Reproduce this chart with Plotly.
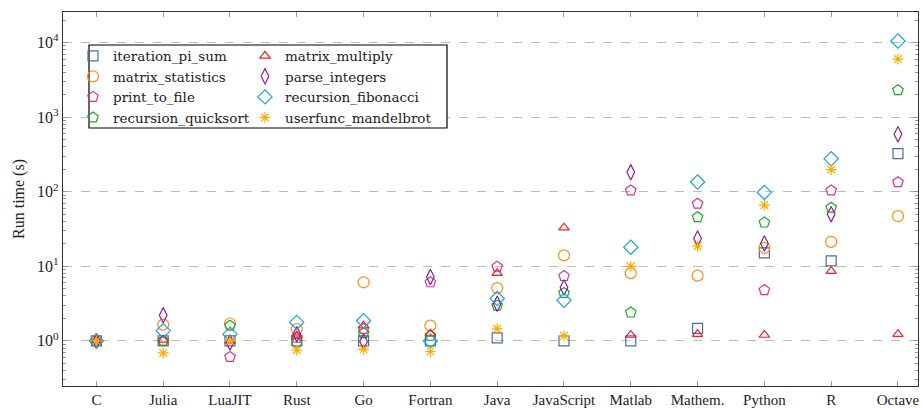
import plotly.graph_objects as go

categories = ["C", "Julia", "LuaJIT", "Rust", "Go", "Fortran", "Java", "JavaScript",
              "Matlab", "Mathem.", "Python", "R", "Octave"]

iteration_pi_sum = [1, 1.0, 1.0, 1.0, 1.0, 1.0, 1.1, 1.0, 1.0, 1.47, 15.1, 11.8, 325]
matrix_multiply = [1, 1.03, 1.0, 1.17, 1.6, 1.25, 8.1, 33, 1.2, 1.23, 1.2, 8.6, 1.23]
matrix_statistics = [1, 1.65, 1.71, 1.44, 6.1, 1.6, 5.1, 14, 8.1, 7.5, 17.7, 21.3, 47]
parse_integers = [1, 2.2, 0.95, 1.23, 0.98, 7.2, 3.15, 5.2, 182, 23.6, 20.2, 50, 590]
print_to_file = [1, 1.0, 0.61, 1.1, 1.45, 6.1, 9.9, 7.4, 104, 69, 4.8, 104, 134]
recursion_fibonacci = [1, 1.37, 1.23, 1.77, 1.86, 1.0, 3.7, 3.5, 18, 135, 98, 276, 10500]
recursion_quicksort = [1, 1.0, 1.6, 0.95, 1.27, 1.17, 2.97, 4.4, 2.4, 45.6, 38.6, 61, 2300]
userfunc_mandelbrot = [1, 0.69, 1.0, 0.75, 0.77, 0.72, 1.45, 1.17, 10, 18.6, 66, 198, 6000]

y_tickvals = [1, 10, 100, 1000, 10000]
y_ticktext = ["10<sup>0</sup>", "10<sup>1</sup>", "10<sup>2</sup>", "10<sup>3</sup>", "10<sup>4</sup>"]

series = [
    ("iteration_pi_sum", iteration_pi_sum, "square-open", "#4a6da6", 10, "legend"),
    ("matrix_statistics", matrix_statistics, "circle-open", "#ff8c1a", 11, "legend"),
    ("print_to_file", print_to_file, "pentagon-open", "#e0308c", 11, "legend"),
    ("recursion_quicksort", recursion_quicksort, "pentagon-open", "#1fa81f", 11, "legend"),
    ("matrix_multiply", matrix_multiply, "triangle-up-open", "#ff1a1a", 9, "legend2"),
    ("parse_integers", parse_integers, "diamond-tall-open", "#8b1f93", 11, "legend2"),
    ("recursion_fibonacci", recursion_fibonacci, "diamond-open", "#1aa3de", 11, "legend2"),
    ("userfunc_mandelbrot", userfunc_mandelbrot, "asterisk-open", "#ffaa00", 9, "legend2"),
]

FONT = "Liberation Serif, Times New Roman, serif"
LFONT = "DejaVu Serif, serif"

fig = go.Figure()
for name, vals, sym, col, size, leg in series:
    fig.add_trace(go.Scatter(
        x=categories, y=vals, mode="markers", name=name, legend=leg,
        marker=dict(symbol=sym, size=size, color=col, line=dict(color=col, width=1.2)),
    ))

W, H = 923, 408
ml, mr, mt, mb = 63, 5, 12, 22
pw, ph = W - ml - mr, H - mt - mb

def px(x):
    return (x - ml) / pw

def py(y):
    return 1 - (y - mt) / ph

leg_common = dict(
    bgcolor="rgba(0,0,0,0)", borderwidth=0,
    font=dict(family=LFONT, size=13.5, color="#222"),
    xanchor="left", yanchor="top", tracegroupgap=0, itemwidth=30,
    traceorder="normal",
)

fig.update_layout(
    width=W, height=H,
    margin=dict(l=ml, r=mr, t=mt, b=mb, autoexpand=False),
    paper_bgcolor="white", plot_bgcolor="white",
    font=dict(family=FONT, size=16, color="#222"),
    showlegend=True,
    legend=dict(x=px(73), y=py(40.5), **leg_common),
    legend2=dict(x=px(245), y=py(40.5), **leg_common),
    shapes=[dict(type="rect", xref="paper", yref="paper",
                 x0=px(89), x1=px(447), y0=py(128), y1=py(45),
                 line=dict(color="black", width=1.2), fillcolor="white", layer="above")],
    xaxis=dict(
        type="category", categoryorder="array", categoryarray=categories,
        range=[-0.5, 12.3], automargin=False,
        showline=True, linecolor="#333", linewidth=1.2, mirror="allticks",
        ticks="inside", ticklen=5, tickcolor="#999",
        showgrid=False, zeroline=False,
        tickfont=dict(family=FONT, size=15, color="#222"),
    ),
    yaxis=dict(
        type="log", range=[-0.605, 4.41], automargin=False,
        tickvals=y_tickvals, ticktext=y_ticktext,
        showline=True, linecolor="#333", linewidth=1.2, mirror="allticks",
        ticks="inside", ticklen=5, tickcolor="#999",
        showgrid=True, gridcolor="#bbbbbb", griddash="dash", gridwidth=1,
        zeroline=False,
        minor=dict(ticks="inside", ticklen=3, tickcolor="#999", dtick="D1", showgrid=False),
        tickfont=dict(family=FONT, size=16, color="#222"),
        title=dict(text="Run time (s)", font=dict(family=FONT, size=16, color="#222"), standoff=8),
    ),
)

fig.write_html("out.html")
